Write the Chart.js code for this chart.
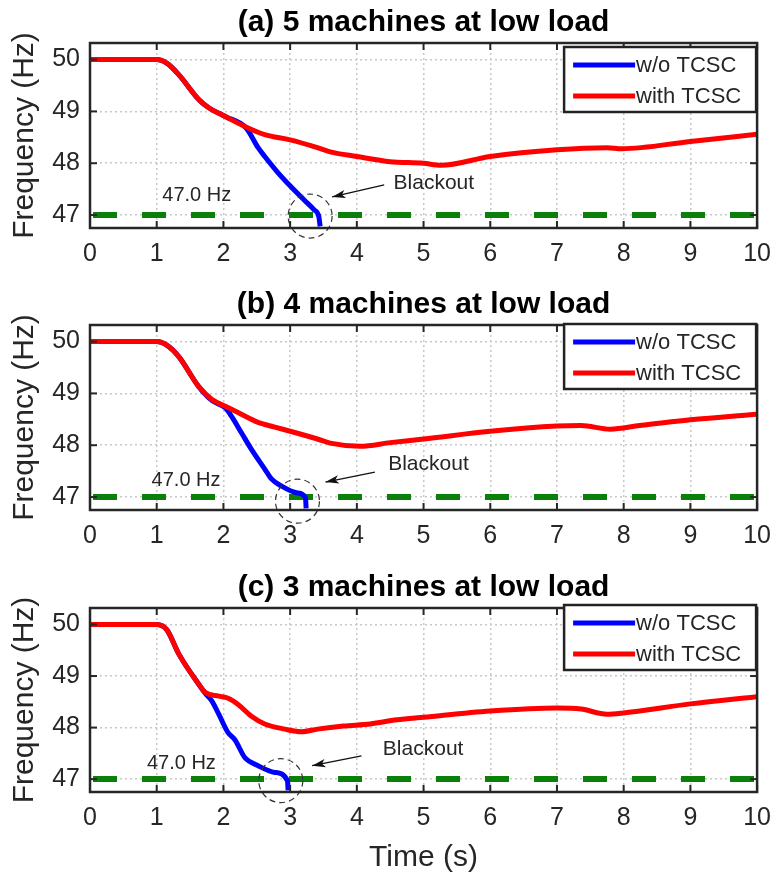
<!DOCTYPE html>
<html lang="en">
<head>
<meta charset="UTF-8" />
<title>Frequency - TCSC</title>
<script src="https://cdn.jsdelivr.net/npm/chart.js"></script>
<style>
  body { margin: 0; background: #fff; }
  canvas { position: absolute; left: 0; }
</style>
</head>
<body>
<canvas id="chart-a" width="782" height="280" style="top:0px"></canvas>
<canvas id="chart-b" width="782" height="280" style="top:282px"></canvas>
<canvas id="chart-c" width="782" height="316" style="top:565px"></canvas>
<script>
  const seriesNames = ["w/o TCSC", "with TCSC"];
  const xTicks = [0, 1, 2, 3, 4, 5, 6, 7, 8, 9, 10];
  const yTicks = [47, 48, 49, 50];
  const limitHz = 47.0;

  // (a) 5 machines
  const timeA_with = [0, 1.0, 1.15, 1.33, 1.63, 1.78, 2.03, 2.32, 2.62, 3.0, 3.41, 3.6, 4.0, 4.5, 5.0, 5.26, 6.0, 7.0, 7.75, 7.97, 9.0, 10.0];
  const freqA_with = [50, 50, 49.93, 49.71, 49.23, 49.07, 48.9, 48.71, 48.55, 48.45, 48.3, 48.22, 48.13, 48.03, 48.0, 47.96, 48.13, 48.26, 48.3, 48.28, 48.42, 48.56];
  const timeA_wo = [0, 1.0, 1.15, 1.33, 1.63, 1.78, 2.03, 2.34, 2.52, 2.62, 2.81, 3.01, 3.21, 3.36, 3.43, 3.45];
  const freqA_wo = [50, 50, 49.93, 49.71, 49.23, 49.07, 48.9, 48.68, 48.3, 48.13, 47.83, 47.55, 47.29, 47.1, 46.97, 46.78];

  // (b) 4 machines
  const timeB_with = [0, 1.0, 1.15, 1.33, 1.63, 1.83, 2.03, 2.22, 2.52, 2.77, 3.0, 3.41, 3.6, 4.05, 4.5, 5.0, 6.0, 7.0, 7.36, 7.8, 8.24, 9.0, 10.0];
  const freqB_with = [50, 50, 49.93, 49.71, 49.13, 48.88, 48.75, 48.63, 48.44, 48.35, 48.27, 48.12, 48.04, 47.98, 48.05, 48.12, 48.27, 48.37, 48.38, 48.31, 48.38, 48.49, 48.6];
  const timeB_wo = [0, 1.0, 1.15, 1.33, 1.63, 1.83, 2.03, 2.12, 2.27, 2.42, 2.62, 2.72, 2.86, 3.11, 3.23, 3.24];
  const freqB_wo = [50, 50, 49.93, 49.71, 49.13, 48.86, 48.72, 48.56, 48.24, 47.92, 47.54, 47.35, 47.22, 47.08, 46.99, 46.78];

  // (c) 3 machines
  const timeC_with = [0, 1.0, 1.15, 1.33, 1.63, 1.73, 1.93, 2.07, 2.22, 2.42, 2.62, 2.92, 3.17, 3.41, 3.8, 4.2, 4.6, 5.0, 6.0, 7.0, 7.36, 7.75, 7.97, 9.0, 10.0];
  const freqC_with = [50, 50, 49.9, 49.43, 48.84, 48.68, 48.61, 48.57, 48.45, 48.22, 48.07, 47.97, 47.92, 47.97, 48.03, 48.07, 48.15, 48.2, 48.32, 48.38, 48.36, 48.26, 48.28, 48.46, 48.6];
  const timeC_wo = [0, 1.0, 1.15, 1.33, 1.63, 1.73, 1.83, 1.93, 2.07, 2.17, 2.32, 2.52, 2.77, 2.96, 2.97];
  const freqC_wo = [50, 50, 49.9, 49.43, 48.84, 48.66, 48.51, 48.26, 47.9, 47.77, 47.42, 47.26, 47.13, 46.97, 46.78];

  const fontFamily = 'Arial, "Liberation Sans", sans-serif';

  const pts = (ts, fs) => ts.map((t, i) => ({ x: t, y: fs[i] }));

  function line(ctx, x1, y1, x2, y2) {
    ctx.beginPath();
    ctx.moveTo(x1, y1);
    ctx.lineTo(x2, y2);
    ctx.stroke();
  }

  // box, inner ticks, legend and the blackout notes
  const framePlugin = {
    id: "notes",
    afterDraw(chart, args, opts) {
      const { ctx, chartArea: { left, top, right, bottom }, scales: { x, y } } = chart;
      ctx.save();

      // notes
      ctx.fillStyle = "#262626";
      ctx.font = "20px " + fontFamily;
      ctx.textAlign = "center";
      ctx.textBaseline = "middle";
      ctx.fillText("47.0 Hz", x.getPixelForValue(opts.label[0]), y.getPixelForValue(opts.label[1]));
      ctx.font = "21px " + fontFamily;
      ctx.textAlign = "left";
      ctx.fillText("Blackout", x.getPixelForValue(opts.text[0]), y.getPixelForValue(opts.text[1]));

      const tx = x.getPixelForValue(opts.arrow[0]), ty = y.getPixelForValue(opts.arrow[1]);
      const hx = x.getPixelForValue(opts.arrow[2]), hy = y.getPixelForValue(opts.arrow[3]);
      ctx.strokeStyle = "#111";
      ctx.lineWidth = 1.3;
      line(ctx, tx, ty, hx, hy);
      const ang = Math.atan2(hy - ty, hx - tx);
      ctx.beginPath();
      ctx.moveTo(hx, hy);
      ctx.lineTo(hx - 14 * Math.cos(ang - 0.3), hy - 14 * Math.sin(ang - 0.3));
      ctx.lineTo(hx - 10 * Math.cos(ang), hy - 10 * Math.sin(ang));
      ctx.lineTo(hx - 14 * Math.cos(ang + 0.3), hy - 14 * Math.sin(ang + 0.3));
      ctx.closePath();
      ctx.fillStyle = "#111";
      ctx.fill();

      ctx.setLineDash([6, 4]);
      ctx.strokeStyle = "#333";
      ctx.lineWidth = 1.2;
      ctx.beginPath();
      ctx.arc(x.getPixelForValue(opts.circle[0]), y.getPixelForValue(opts.circle[1]), 22, 0, Math.PI * 2);
      ctx.stroke();
      ctx.setLineDash([]);

      // axes box + inner ticks
      ctx.strokeStyle = "#262626";
      ctx.lineWidth = 2.5;
      ctx.strokeRect(left, top, right - left, bottom - top);
      ctx.lineWidth = 2;
      xTicks.forEach(v => {
        const px = x.getPixelForValue(v);
        line(ctx, px, bottom, px, bottom - 7);
        line(ctx, px, top, px, top + 7);
      });
      yTicks.forEach(v => {
        const py = y.getPixelForValue(v);
        line(ctx, left, py, left + 7, py);
        line(ctx, right, py, right - 7, py);
      });

      // legend
      const bx = right - 193, by = top + opts.legendTop, bw = 192, bh = 65;
      ctx.fillStyle = "#fff";
      ctx.fillRect(bx, by, bw, bh);
      ctx.strokeStyle = "#222";
      ctx.lineWidth = 2.5;
      ctx.strokeRect(bx, by, bw, bh);
      const colors = ["#0000ff", "#ff0000"];
      ctx.font = "22px " + fontFamily;
      ctx.textAlign = "left";
      ctx.textBaseline = "middle";
      seriesNames.forEach((name, i) => {
        const ly = by + 18 + i * 31;
        ctx.strokeStyle = colors[i];
        ctx.lineWidth = 5;
        line(ctx, bx + 9, ly, bx + 71, ly);
        ctx.fillStyle = "#262626";
        ctx.fillText(name, bx + 72, ly + 1);
      });
      ctx.restore();
    }
  };

  function makeChart(id, title, withT, withF, woT, woF, notes, xHeight, showXTitle) {
    return new Chart(document.getElementById(id), {
      type: "line",
      data: {
        datasets: [
          { label: seriesNames[1], data: pts(withT, withF), borderColor: "#ff0000", borderWidth: 5, pointRadius: 0, cubicInterpolationMode: "monotone", order: 0 },
          { label: seriesNames[0], data: pts(woT, woF), borderColor: "#0000ff", borderWidth: 5, pointRadius: 0, cubicInterpolationMode: "monotone", order: 1 },
          { label: "47.0 Hz", data: [{ x: 0, y: limitHz }, { x: 10, y: limitHz }], borderColor: "#0a800a", borderWidth: 6, borderDash: [24, 25], borderDashOffset: 46, pointRadius: 0, order: 2 }
        ]
      },
      options: {
        responsive: false,
        animation: false,
        layout: { padding: { right: 17 } },
        plugins: {
          legend: { display: false },
          tooltip: { enabled: false },
          title: {
            display: true,
            text: title,
            fullSize: false,
            color: "#000",
            font: { family: fontFamily, size: 30, weight: "bold" },
            padding: { top: 5, bottom: 2 }
          },
          notes: notes
        },
        scales: {
          x: {
            type: "linear",
            min: 0,
            max: 10,
            afterBuildTicks: s => { s.ticks = xTicks.map(v => ({ value: v })); },
            afterFit: s => { s.height = xHeight; },
            grid: { color: "#c8c8c8", lineWidth: 1.5, drawTicks: false },
            border: { display: false, dash: [2, 3] },
            ticks: { padding: 11, color: "#262626", font: { family: fontFamily, size: 25 } },
            title: { display: showXTitle, text: "Time (s)", color: "#262626", font: { family: fontFamily, size: 30 }, padding: { bottom: 5 } }
          },
          y: {
            min: 46.75,
            max: 50.32,
            afterBuildTicks: s => { s.ticks = yTicks.map(v => ({ value: v })); },
            afterFit: s => { s.width = 90; },
            grid: { color: "#c8c8c8", lineWidth: 1.5, drawTicks: false },
            border: { display: false, dash: [2, 3] },
            ticks: { padding: 10, color: "#262626", font: { family: fontFamily, size: 25 } },
            title: { display: true, text: "Frequency (Hz)", color: "#262626", font: { family: fontFamily, size: 30 }, padding: { top: 7 } }
          }
        }
      },
      plugins: [framePlugin]
    });
  }

  makeChart("chart-a", "(a) 5 machines at low load", timeA_with, freqA_with, timeA_wo, freqA_wo,
    { label: [1.6, 47.37], text: [4.55, 47.62], arrow: [4.41, 47.58, 3.63, 47.35], circle: [3.3, 46.98], legendTop: 4 }, 52, false);
  makeChart("chart-b", "(b) 4 machines at low load", timeB_with, freqB_with, timeB_wo, freqB_wo,
    { label: [1.44, 47.31], text: [4.47, 47.63], arrow: [4.27, 47.48, 3.53, 47.29], circle: [3.11, 46.92], legendTop: -1 }, 52, false);
  makeChart("chart-c", "(c) 3 machines at low load", timeC_with, freqC_with, timeC_wo, freqC_wo,
    { label: [1.37, 47.3], text: [4.39, 47.59], arrow: [4.07, 47.45, 3.33, 47.26], circle: [2.86, 46.97], legendTop: -3 }, 89, true);
</script>
</body>
</html>
